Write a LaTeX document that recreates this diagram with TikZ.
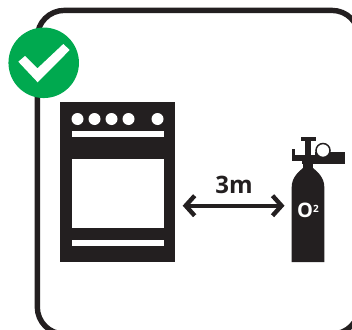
\documentclass[tikz,border=0pt]{standalone}
\usepackage{fontspec}
\setmainfont{Open Sans}
\usepackage{xcolor}
\usetikzlibrary{arrows.meta,positioning}
\definecolor{inkblack}{HTML}{231F20}
\definecolor{tickgreen}{HTML}{00A94F}
\begin{document}
\begin{tikzpicture}[
  x=1pt, y=-1pt,
  solid/.style={fill=inkblack, draw=none},
  hole/.style={fill=white, draw=none},
  arr/.style={{Straight Barb[length=9pt,width=20pt]}-{Straight Barb[length=9pt,width=20pt]}, line width=4.4pt, draw=inkblack}
]
\useasboundingbox (0,0) rectangle (352,329);
\clip (0,0) rectangle (352,329);
% frame
\draw[inkblack, line width=5.4pt, rounded corners=27pt] (37.3,334) rectangle (359,10.4);
% badge
\node[circle, fill=tickgreen, minimum size=70.5pt, inner sep=0pt] (badge) at (43.7,62.8) {};
\fill[white] (18.3,61.7) -- (25,56) -- (37.5,68.3) -- (63.3,44) -- (69.7,50) -- (37.7,82.3) -- cycle;
% cooker
\node[solid, minimum width=115pt, minimum height=160pt, inner sep=0pt] (cooker) at (117.5,182) {};
\node[hole, minimum width=92pt, minimum height=69pt, inner sep=0pt] (oven) at (118,193.5) {};
\node[hole, minimum width=92pt, minimum height=6pt, inner sep=0pt] (topbar) at (118,134) {};
\node[hole, minimum width=92pt, minimum height=6pt, inner sep=0pt] (lowbar) at (118,243) {};
\foreach \x in {77.5,94.5,111.5,128.5,157.5}
  \fill[white] (\x,119) circle (6pt);
% cylinder
\fill[inkblack] (291.7,262) -- (291.7,187) .. controls (291.7,178) and (298,172) .. (303,168)
  -- (313,168) .. controls (318,172) and (324.3,178) .. (324.3,187) -- (324.3,262) -- cycle;
\fill[inkblack] (303,164) rectangle (313,169);
\fill[inkblack] (300.7,137.3) rectangle (316,141);
\fill[inkblack] (305,141) rectangle (311,158);
\fill[inkblack] (292.3,149) rectangle (295,161);
\fill[inkblack] (295,155) rectangle (320,161);
\fill[inkblack] (315,151.5) rectangle (345,164);
\fill[inkblack] (301.7,155) rectangle (315,164);
\draw[inkblack, line width=1.5pt, fill=white] (323,150.5) circle (7pt);
\node[text=white, inner sep=0pt, font=\fontsize{20}{20}\selectfont\bfseries] (gas) at (308,210.5) {O\raisebox{5pt}{\fontsize{10}{10}\selectfont 2}};
% distance
\coordinate (left) at (182.7,205.7);
\coordinate (right) at (284.5,205.7);
\draw[arr] (left) -- (right);
\node[text=inkblack, inner sep=0pt, font=\fontsize{24}{24}\selectfont\bfseries] (dist) at (234,184.5) {3m};
\end{tikzpicture}
\end{document}
